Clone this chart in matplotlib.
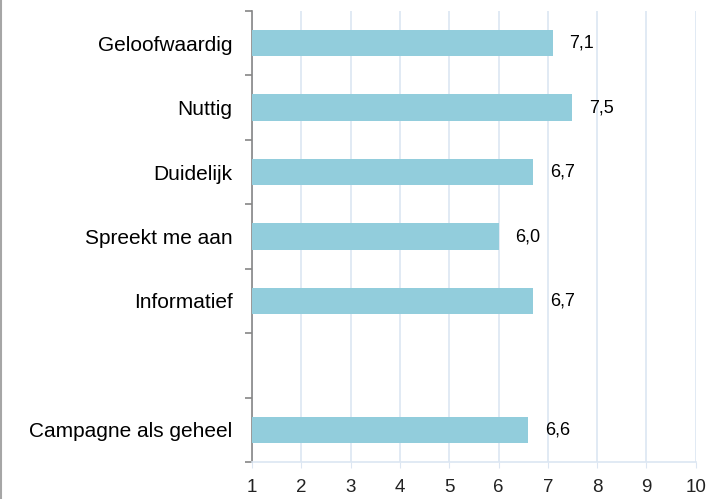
import numpy as np
import matplotlib.pyplot as plt
from matplotlib.lines import Line2D

plt.rcParams['font.family'] = ['Liberation Sans', 'DejaVu Sans']

categories = ['Geloofwaardig', 'Nuttig', 'Duidelijk', 'Spreekt me aan',
              'Informatief', '', 'Campagne als geheel']
scores = [7.1, 7.5, 6.7, 6.0, 6.7, None, 6.6]
value_labels = ['7,1', '7,5', '6,7', '6,0', '6,7', '', '6,6']

bar_color = '#92cddc'
grid_color = '#dce6f2'

fig = plt.figure(figsize=(7.24, 4.99), dpi=100)
ax = fig.add_axes([0.348, 0.074, 0.613, 0.904])

y = np.arange(len(categories))
for yi, s, lab in zip(y, scores, value_labels):
    if s is None:
        continue
    ax.barh(yi, s - 1, left=1, height=0.41, color=bar_color, zorder=3)
    ax.annotate(lab, (s, yi), xytext=(12, 0), textcoords='offset points',
                ha='left', va='center', fontsize=13, color='black')

ax.set_xlim(1, 10)
ax.set_ylim(len(categories) - 0.5, -0.5)
ax.set_xticks(range(1, 11))
ax.tick_params(axis='x', colors=grid_color, length=4, labelcolor='#222222',
               labelsize=13.5, pad=8)
ax.xaxis.grid(True, color=grid_color, linewidth=1.2, zorder=0)

ax.set_yticks(y)
ax.set_yticklabels(categories, fontsize=15)
ax.set_yticks(np.arange(-0.5, len(categories)), minor=True)
ax.tick_params(axis='y', which='major', length=0, pad=14)
ax.tick_params(axis='y', which='minor', length=5, color='#868686', width=1.2)

for side in ['top', 'right']:
    ax.spines[side].set_visible(False)
ax.spines['left'].set_color('#868686')
ax.spines['left'].set_linewidth(1.2)
ax.spines['bottom'].set_color(grid_color)
ax.spines['bottom'].set_linewidth(1.2)

fig.add_artist(Line2D([0.002, 0.002], [0, 1], color='#a6a6a6', linewidth=1.5,
                      transform=fig.transFigure))

fig.savefig('out.png', dpi=100)
